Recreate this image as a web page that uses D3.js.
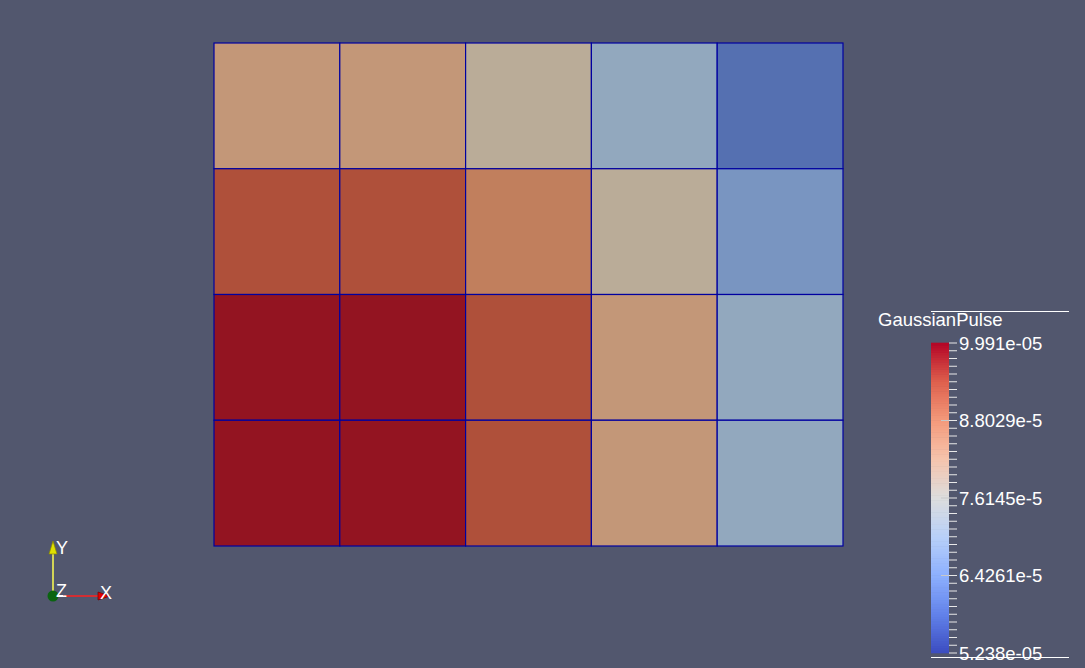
<!DOCTYPE html>
<html><head><meta charset="utf-8">
<script src="https://cdn.jsdelivr.net/npm/d3@7"></script>
<style>html,body{margin:0;padding:0;background:#52576e;overflow:hidden}</style>
</head><body>
<svg id="chart" width="1085" height="668"></svg>
<script>
// ---- data ----
const columns = [0, 1, 2, 3, 4];
const rows = [0, 1, 2, 3]; // top to bottom
const row0 = [8.423e-5, 8.423e-5, 7.900e-5, 6.949e-5, 5.808e-5];
const row1 = [9.468e-5, 9.468e-5, 8.850e-5, 7.900e-5, 6.474e-5];
const row2 = [9.991e-5, 9.991e-5, 9.468e-5, 8.423e-5, 6.949e-5];
const row3 = [9.991e-5, 9.991e-5, 9.468e-5, 8.423e-5, 6.949e-5];
const gridValues = [row0, row1, row2, row3];
const rangeMin = 5.238e-05, rangeMax = 9.991e-05;
const tickLabels = ["5.238e-05", "6.4261e-5", "7.6145e-5", "8.8029e-5", "9.991e-05"];
const fieldName = "GaussianPulse";
// Cool-to-warm colormap control points
const cmapStops = [0, 0.125, 0.25, 0.375, 0.5, 0.625, 0.75, 0.875, 1];
const cmapColors = ["rgb(59,76,192)", "rgb(98,130,234)", "rgb(141,176,254)", "rgb(184,208,249)",
  "rgb(221,221,221)", "rgb(245,196,173)", "rgb(244,154,123)", "rgb(222,96,77)", "rgb(180,4,38)"];

const svg = d3.select("#chart");
const bg = "#52576e";
svg.append("rect").attr("width", 1085).attr("height", 668).attr("fill", bg);

const norm = d3.scaleLinear().domain([rangeMin, rangeMax]).range([0, 1]).clamp(true);
const cmap = d3.scaleLinear().domain(cmapStops).range(cmapColors).interpolate(d3.interpolateRgb);
const color = v => cmap(norm(v));
// surface lighting shade
const shade = c => { const r = d3.rgb(c); return d3.rgb(r.r * 0.74 + 14, r.g * 0.74 + 17, r.b * 0.74 + 5).toString(); };

// ---- grid ----
const x = d3.scaleBand().domain(columns).range([214, 843]).padding(0);
const y = d3.scaleBand().domain(rows).range([43, 546]).padding(0);
const cells = [];
rows.forEach(r => columns.forEach(c => cells.push({r, c, v: gridValues[r][c]})));
svg.append("g").selectAll("rect").data(cells).join("rect")
  .attr("x", d => x(d.c)).attr("y", d => y(d.r))
  .attr("width", x.bandwidth()).attr("height", y.bandwidth())
  .attr("fill", d => shade(color(d.v)))
  .attr("stroke", "#0000a0").attr("stroke-width", 1.2);

// ---- colour bar ----
const barX = 931, barW = 18, barTop = 343, barBottom = 653;
const cb = d3.scaleLinear().domain([rangeMin, rangeMax]).range([barBottom, barTop]);
const nb = 128;
const bands = d3.range(nb).map(i => rangeMin + (i + 0.5) * (rangeMax - rangeMin) / nb);
const bh = (barBottom - barTop) / nb;
svg.append("g").selectAll("rect").data(bands).join("rect")
  .attr("x", barX).attr("width", barW)
  .attr("y", d => cb(d) - bh / 2 - 0.3).attr("height", bh + 0.6)
  .attr("fill", d => color(d));

// minor ticks
const minorVals = d3.range(41).map(i => rangeMin + i * (rangeMax - rangeMin) / 40);
svg.append("g").selectAll("line").data(minorVals).join("line")
  .attr("x1", barX + barW).attr("x2", barX + barW + 8)
  .attr("y1", d => cb(d)).attr("y2", d => cb(d))
  .attr("stroke", "#e8e8e8").attr("stroke-width", 1);
// major ticks
const majorVals = d3.range(5).map(i => rangeMin + i * (rangeMax - rangeMin) / 4);
svg.append("g").selectAll("line").data(majorVals.slice(1, 4)).join("line")
  .attr("x1", barX + barW - 8).attr("x2", barX + barW)
  .attr("y1", d => cb(d)).attr("y2", d => cb(d))
  .attr("stroke", "#c8c8c8").attr("stroke-width", 1);
const tf = "Liberation Sans, Arial, sans-serif";
svg.append("g").selectAll("text").data(majorVals).join("text")
  .attr("x", 959).attr("y", d => cb(d))
  .attr("dy", "0.36em")
  .attr("fill", "#ffffff").attr("font-family", tf)
  .attr("font-size", 18.5)
  .text((d, i) => tickLabels[i]);
// title and frame lines
svg.append("text").attr("x", 878).attr("y", 326)
  .attr("fill", "#ffffff").attr("font-family", tf)
  .attr("font-size", 18.5).text(fieldName);
svg.append("line").attr("x1", 931).attr("x2", 1069).attr("y1", 311.5).attr("y2", 311.5)
  .attr("stroke", "#ffffff").attr("stroke-width", 1);
svg.append("line").attr("x1", 931).attr("x2", 1069).attr("y1", 657.5).attr("y2", 657.5)
  .attr("stroke", "#ffffff").attr("stroke-width", 1);

// ---- orientation triad ----
const tri = svg.append("g");
const ox = 53, oy = 596;
tri.append("line").attr("x1", ox).attr("y1", oy).attr("x2", ox).attr("y2", 550)
  .attr("stroke", "#ffff50").attr("stroke-width", 1.5);
tri.append("path").attr("d", `M${ox},541 L${ox - 4},554 L${ox + 4},554 Z`).attr("fill", "#e0e000").attr("stroke", "#8a8a00").attr("stroke-width", 0.7);
tri.append("line").attr("x1", ox).attr("y1", oy).attr("x2", 63).attr("y2", oy)
  .attr("stroke", "#ffffff").attr("stroke-width", 2);
tri.append("line").attr("x1", 63).attr("y1", oy).attr("x2", 100).attr("y2", oy)
  .attr("stroke", "#ff2020").attr("stroke-width", 1.6);
tri.append("path").attr("d", `M110,${oy} L98,${oy - 4} L98,${oy + 4} Z`).attr("fill", "#e00000").attr("stroke", "#700000").attr("stroke-width", 0.7);
tri.append("circle").attr("cx", ox).attr("cy", oy).attr("r", 5.5).attr("fill", "#0a6410");
tri.append("text").attr("x", 56).attr("y", 554).attr("fill", "#fff").attr("font-family", tf).attr("font-size", 18).text("Y");
tri.append("text").attr("x", 56).attr("y", 597).attr("fill", "#fff").attr("font-family", tf).attr("font-size", 18).text("Z");
tri.append("text").attr("x", 100).attr("y", 599).attr("fill", "#fff").attr("font-family", tf).attr("font-size", 18).text("X");
</script>
</body></html>
